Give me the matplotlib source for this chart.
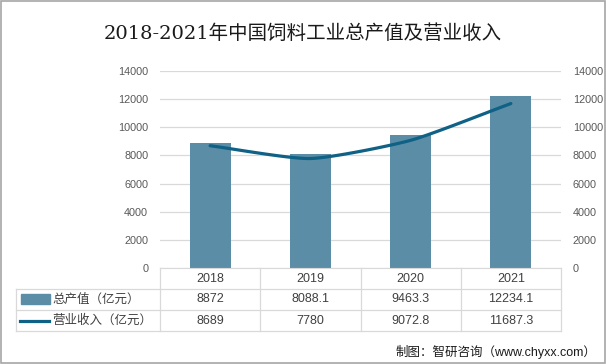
import numpy as np
import matplotlib.pyplot as plt
from matplotlib.patches import Rectangle
from matplotlib.lines import Line2D

plt.rcParams['font.family'] = ['Liberation Sans', 'Noto Sans CJK SC']

years = ['2018', '2019', '2020', '2021']
output_value = [8872, 8088.1, 9463.3, 12234.1]
revenue = [8689, 7780, 9072.8, 11687.3]
output_labels = ['8872', '8088.1', '9463.3', '12234.1']
revenue_labels = ['8689', '7780', '9072.8', '11687.3']
series_names = ['总产值（亿元）', '营业收入（亿元）']

BAR_COLOR = '#5b8ea6'
LINE_COLOR = '#0f6186'
GRID = '#d9d9d9'
TXT = '#404040'
TICK = '#595959'

W, H = 606, 364
fig = plt.figure(figsize=(W / 100, H / 100), dpi=100)


def fx(px):
    return px / W


def fy(py):
    return 1 - py / H


L, R, T, B = 160, 561, 71, 268
ax = fig.add_axes([fx(L), fy(B), fx(R - L), (B - T) / H])
x = np.arange(len(years))
ax.bar(x, output_value, width=0.41, color=BAR_COLOR, zorder=2)
ax.set_xlim(-0.5, len(years) - 0.5)
ax.set_ylim(0, 14000)
ax.set_yticks(range(0, 14001, 2000))
ax.tick_params(axis='y', length=0, labelsize=7.8, labelcolor=TICK, pad=8.5)
ax.set_xticks([])
ax.grid(axis='y', color=GRID, linewidth=0.9, zorder=0)
for s in ['top', 'left', 'right']:
    ax.spines[s].set_visible(False)
ax.spines['bottom'].set_color(GRID)

ax2 = ax.twinx()
# smooth line like Excel (cardinal spline through data points)
pts = np.column_stack([x, revenue]).astype(float)
ext = np.vstack([2 * pts[0] - pts[1], pts, 2 * pts[-1] - pts[-2]])
k = 0.6
cx, cy = [], []
for i in range(1, len(ext) - 2):
    p0, p1, p2, p3 = ext[i - 1], ext[i], ext[i + 1], ext[i + 2]
    m1 = k * (p2 - p0) / 2
    m2 = k * (p3 - p1) / 2
    t = np.linspace(0, 1, 30)[:, None]
    h00 = 2 * t ** 3 - 3 * t ** 2 + 1
    h10 = t ** 3 - 2 * t ** 2 + t
    h01 = -2 * t ** 3 + 3 * t ** 2
    h11 = t ** 3 - t ** 2
    c = h00 * p1 + h10 * m1 + h01 * p2 + h11 * m2
    cx.extend(c[:, 0]); cy.extend(c[:, 1])
ax2.plot(cx, cy, color=LINE_COLOR, linewidth=2.3, solid_capstyle='round', zorder=3)
ax2.set_ylim(0, 14000)
ax2.set_yticks(range(0, 14001, 2000))
ax2.tick_params(axis='y', length=0, labelsize=7.8, labelcolor=TICK, pad=8.5)
for s in ax2.spines.values():
    s.set_visible(False)

# title
fig.text(0.5, fy(34), '2018-2021年中国饲料工业总产值及营业收入', ha='center', va='center',
         fontsize=14, color='#1a1a1a', family=['DejaVu Serif', 'Noto Sans CJK SC'])

# data table under the chart
rows_y = [268, 289, 310, 331]
col_x = [L + (R - L) * i / len(years) for i in range(len(years) + 1)]
tl = dict(color=GRID, linewidth=0.9, transform=fig.transFigure)
for yy in rows_y[1:]:
    fig.add_artist(Line2D([fx(16), fx(R)], [fy(yy), fy(yy)], **tl))
for xx in col_x:
    fig.add_artist(Line2D([fx(xx), fx(xx)], [fy(268), fy(331)], **tl))
fig.add_artist(Line2D([fx(16), fx(16)], [fy(289), fy(331)], **tl))

for i, yr in enumerate(years):
    cxp = (col_x[i] + col_x[i + 1]) / 2
    fig.text(fx(cxp), fy(278.5), yr, ha='center', va='center', fontsize=9, color=TXT)
    fig.text(fx(cxp), fy(299.5), output_labels[i], ha='center', va='center', fontsize=9, color=TXT)
    fig.text(fx(cxp), fy(320.5), revenue_labels[i], ha='center', va='center', fontsize=9, color=TXT)

fig.add_artist(Rectangle((fx(21), fy(304)), fx(29), 10 / H, color=BAR_COLOR,
                         transform=fig.transFigure))
fig.add_artist(Line2D([fx(20), fx(49)], [fy(320.5), fy(320.5)], color=LINE_COLOR,
                      linewidth=2.3, transform=fig.transFigure))
fig.text(fx(52), fy(299.5), series_names[0], ha='left', va='center', fontsize=9, color=TXT)
fig.text(fx(52), fy(320.5), series_names[1], ha='left', va='center', fontsize=9, color=TXT)

fig.text(fx(596), fy(352), '制图：智研咨询（www.chyxx.com）', ha='right', va='center',
         fontsize=9, color='#1a1a1a')

# outer frame
fig.add_artist(Rectangle((0.001, 0.002), 0.997, 0.995, fill=False, edgecolor='#a6a6a6',
                         linewidth=1.2, transform=fig.transFigure))

fig.savefig('out.png', dpi=100)
